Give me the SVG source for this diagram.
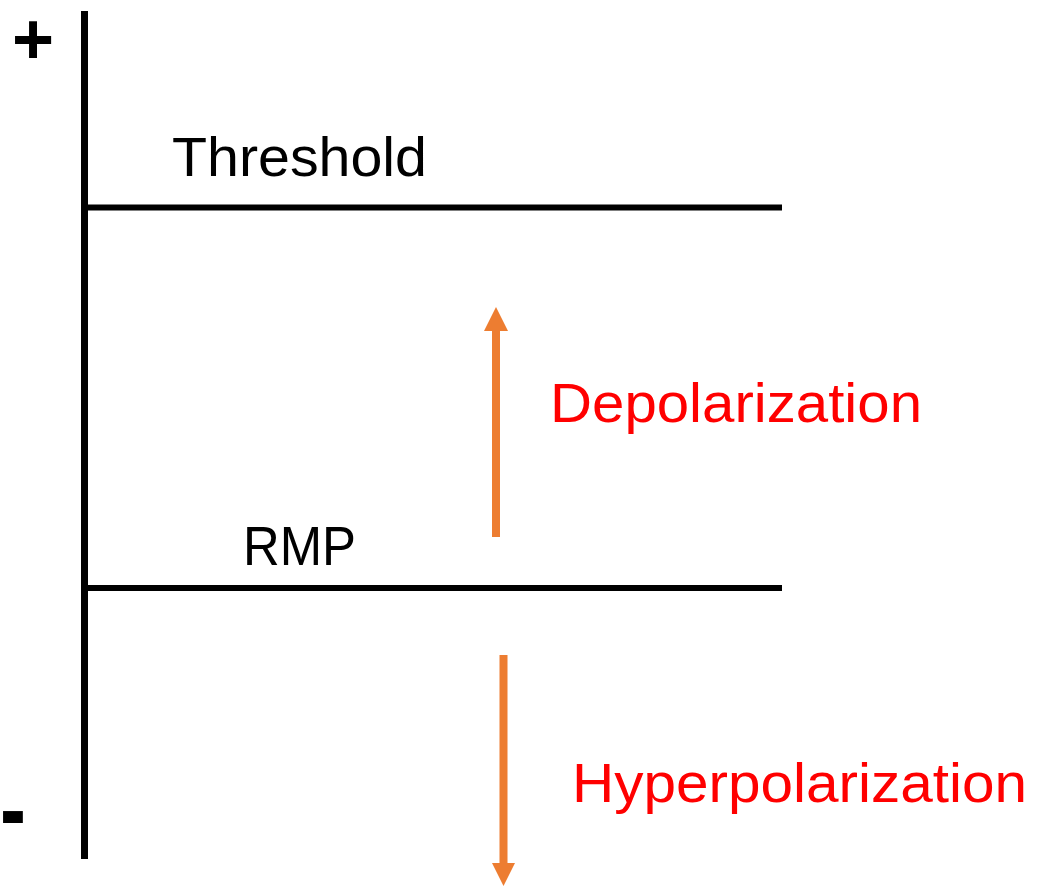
<svg xmlns="http://www.w3.org/2000/svg" width="1038" height="887" viewBox="0 0 1038 887">
<style>
.ax{stroke:#000;stroke-width:7;fill:none}
.lv{stroke:#000;stroke-width:6;fill:none}
.lbl{font-family:"Liberation Sans",Arial,sans-serif;font-size:55px;fill:#000}
.red{fill:#FF0000}
.sign{font-family:"Liberation Sans",Arial,sans-serif;font-weight:bold;fill:#000}
.arr{stroke:#ED7D31;stroke-width:8;fill:none}
.head{fill:#ED7D31}
</style>
<rect width="1038" height="887" fill="#fff"/>
<g id="axis">
<line class="ax" x1="84.5" y1="11" x2="84.5" y2="859"/>
<text class="sign" x="33" y="64" font-size="72" text-anchor="middle">+</text>
<text class="sign" x="0" y="843" font-size="100" textLength="26" lengthAdjust="spacingAndGlyphs">-</text>
</g>
<g id="threshold">
<line class="lv" x1="88" y1="207.5" x2="782" y2="207.5"/>
<text class="lbl" x="172" y="176" textLength="255" lengthAdjust="spacingAndGlyphs">Threshold</text>
</g>
<g id="rmp">
<line class="lv" x1="88" y1="588" x2="782" y2="588"/>
<text class="lbl" x="243" y="565" textLength="113" lengthAdjust="spacingAndGlyphs">RMP</text>
</g>
<g id="connectors">
<line class="arr" x1="496" y1="537" x2="496" y2="329"/>
<polygon class="head" points="484,331 508,331 496,307"/>
<line class="arr" x1="503.5" y1="655" x2="503.5" y2="865"/>
<polygon class="head" points="492,863 515,863 503.5,886"/>
</g>
<g id="depolarization">
<text class="lbl red" x="550" y="422" textLength="372" lengthAdjust="spacingAndGlyphs">Depolarization</text>
</g>
<g id="hyperpolarization">
<text class="lbl red" x="572" y="802" textLength="455" lengthAdjust="spacingAndGlyphs">Hyperpolarization</text>
</g>
</svg>
